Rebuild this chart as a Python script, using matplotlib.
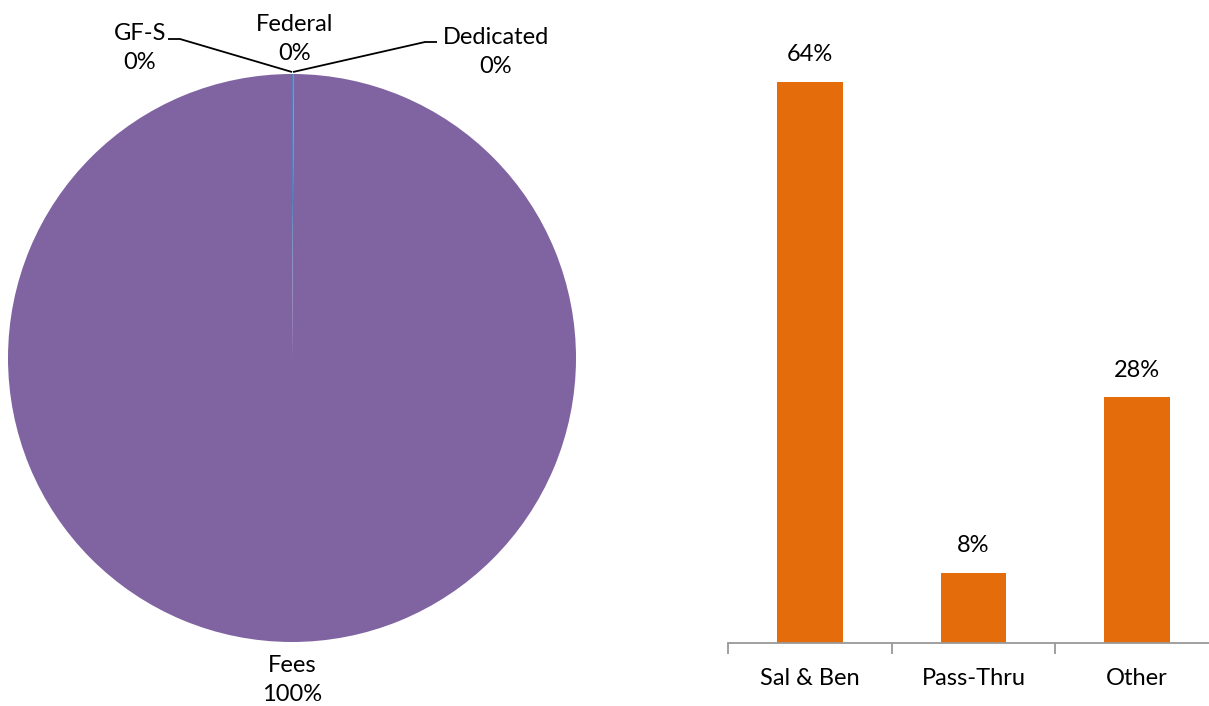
import matplotlib
matplotlib.use("Agg")
import matplotlib.pyplot as plt

# Pie data
pie_labels = ["GF-S", "Federal", "Dedicated", "Fees"]
pie_values = [0.0, 0.1, 0.0, 99.9]
pie_colors = ["#C0504D", "#4F81BD", "#9BBB59", "#8064A2"]

# Bar data
bar_categories = ["Sal & Ben", "Pass-Thru", "Other"]
bar_values = [64, 8, 28]

plt.rcParams['font.family'] = ['Lato', 'DejaVu Sans']
FS = 17

W, H = 1209, 706
fig = plt.figure(figsize=(W / 100, H / 100), dpi=100)

# ---------- Pie ----------
cx, cy, r = 292, 358, 284
axp = fig.add_axes([(cx - r) / W, (H - cy - r) / H, 2 * r / W, 2 * r / H])
axp.pie(pie_values, colors=pie_colors, startangle=90, counterclock=False,
        radius=1, wedgeprops=dict(linewidth=0))
axp.set_xlim(-1, 1)
axp.set_ylim(-1, 1)
axp.set_aspect('equal')
axp.axis('off')

total = sum(pie_values)
def pct(v):
    return f"{round(v / total * 100):.0f}%"

def px(x, y):
    return ((x - cx) / r, (cy - y) / r)

label_pos = {"GF-S": (140, 48), "Federal": (295, 39), "Dedicated": (496, 52), "Fees": (292, 680)}
for lab, val in zip(pie_labels, pie_values):
    x, y = px(*label_pos[lab])
    axp.text(x, y, f"{lab}\n{pct(val)}", ha='center', va='center', fontsize=FS,
             linespacing=1.5, clip_on=False, color='#000000')

# leader lines
for pts in ([(292, 72), (180, 39), (168, 39)], [(293, 72), (425, 42), (437, 42)]):
    xs, ys = zip(*[px(*p) for p in pts])
    axp.plot(xs, ys, color='black', lw=1.3, clip_on=False, solid_capstyle='butt')

# ---------- Bars ----------
left_px, right_px = 728, 1219
base_y = 643
scale = 8.77  # px per %
ytop = 70
axb = fig.add_axes([left_px / W, (H - base_y) / H, (right_px - left_px) / W, ytop * scale / H])
xs = range(len(bar_categories))
bars = axb.bar(xs, bar_values, width=0.4, color="#E46C0A")
for x, v in zip(xs, bar_values):
    axb.text(x, v + 3.1, f"{v}%", ha='center', va='center', fontsize=FS)
axb.set_xlim(-0.5, len(bar_categories) - 0.5)
axb.set_ylim(0, ytop)
for s in ['top', 'right', 'left']:
    axb.spines[s].set_visible(False)
axb.spines['bottom'].set_color('#999999')
axb.spines['bottom'].set_linewidth(1.3)
axb.set_yticks([])
axb.set_xticks([i - 0.5 for i in range(len(bar_categories) + 1)])
axb.set_xticklabels([])
axb.tick_params(axis='x', length=8, width=1.3, color='#999999', direction='out')
axb.set_xticks(list(xs), minor=True)
axb.set_xticklabels(bar_categories, minor=True, fontsize=FS)
axb.tick_params(axis='x', which='minor', length=0, pad=18)

fig.savefig("out.png", dpi=100)
